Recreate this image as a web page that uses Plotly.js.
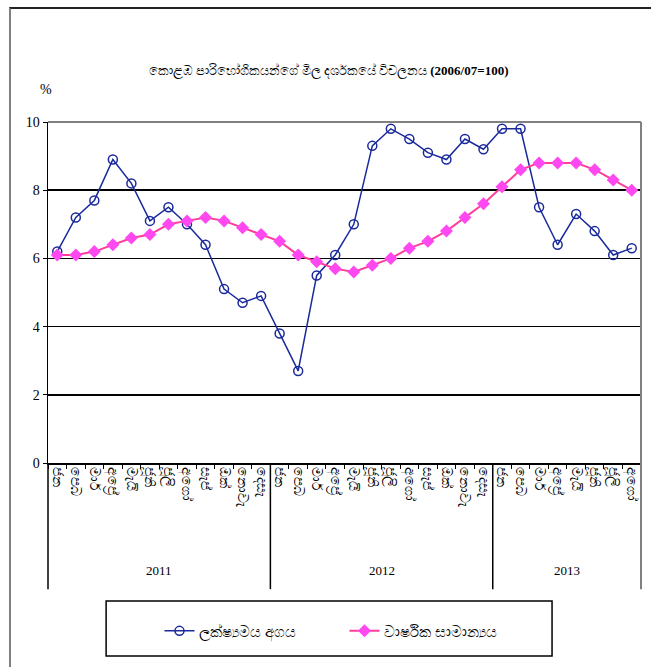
<!DOCTYPE html>
<html>
<head>
<meta charset="utf-8">
<script src="https://cdn.plot.ly/plotly-3.0.1.min.js"></script>
<style>
  html, body { margin: 0; padding: 0; background: #fff; }
  #wrap { position: relative; width: 651px; height: 667px; }
  #chart { width: 651px; height: 667px; }
  #frame { position: absolute; left: 9px; top: 7px; right: 0; bottom: 0;
           border-left: 2px solid #808080; border-top: 2px solid #222; pointer-events: none; }
</style>
</head>
<body>
<div id="wrap">
  <div id="chart"></div>
  <div id="frame"></div>
</div>
<script>
const months = ["ජන","පෙබ","මාර්","අප්‍රේ","මැයි","ජූනි","ජූලි","අගෝ","සැප්","ඔක්","නොවැ","දෙසැ"];
const years = ["2011","2012","2013"];
const monthLabels = months.concat(months, months.slice(0, 8));
const pointValues = [6.2,7.2,7.7,8.9,8.2,7.1,7.5,7.0,6.4,5.1,4.7,4.9,
                     3.8,2.7,5.5,6.1,7.0,9.3,9.8,9.5,9.1,8.9,9.5,9.2,
                     9.8,9.8,7.5,6.4,7.3,6.8,6.1,6.3];
const annualAverage = [6.1,6.1,6.2,6.4,6.6,6.7,7.0,7.1,7.2,7.1,6.9,6.7,
                       6.5,6.1,5.9,5.7,5.6,5.8,6.0,6.3,6.5,6.8,7.2,7.6,
                       8.1,8.6,8.8,8.8,8.8,8.6,8.3,8.0];
const seriesNames = ["ලක්ෂ්‍යමය අගය", "වාර්ෂික සාමාන්‍යය"];
const titleText = "කොළඹ පාරිභෝගිකයන්ගේ මිල දර්ශකයේ විචලනය <b>(2006/07=100)</b>";

const idx = monthLabels.map((_, i) => i);
const yearCounts = [12, 12, 8];
const serif = "Liberation Serif";

const traces = [
  { x: idx, y: pointValues, name: seriesNames[0], type: 'scatter', mode: 'lines+markers',
    line: { color: '#1a2a9c', width: 1.5 },
    marker: { symbol: 'circle-open', size: 9, color: '#1a2a9c', line: { width: 1.5, color: '#1a2a9c' } } },
  { x: idx, y: annualAverage, name: seriesNames[1], type: 'scatter', mode: 'lines+markers',
    line: { color: '#ff3d9a', width: 2 },
    marker: { symbol: 'diamond', size: 10, color: '#ff48f0' } }
];

const shapes = [];
const annotations = [];
let start = 0;
yearCounts.forEach((n, k) => {
  const end = start + n;
  if (k < yearCounts.length - 1) {
    shapes.push({ type: 'line', xref: 'x', yref: 'paper', x0: end - 0.5, x1: end - 0.5, y0: 0, y1: -0.37,
                  line: { color: '#000', width: 1.5 } });
  }
  annotations.push({ xref: 'x', yref: 'paper', x: (start + end - 1) / 2, y: -0.314, yanchor: 'middle', text: years[k],
                     showarrow: false, font: { family: serif, size: 13, color: '#000' } });
  start = end;
});
shapes.push({ type: 'line', xref: 'paper', yref: 'paper', x0: 0, x1: 0, y0: 0, y1: -0.37, line: { color: '#000', width: 1.5 } });
shapes.push({ type: 'line', xref: 'paper', yref: 'paper', x0: 1, x1: 1, y0: -0.37, y1: 1, line: { color: '#808080', width: 2 } });
shapes.push({ type: 'line', xref: 'paper', yref: 'paper', x0: 0, x1: 1, y0: 1, y1: 1, line: { color: '#808080', width: 2 } });
shapes.push({ type: 'rect', xref: 'paper', yref: 'paper', x0: 0.098, x1: 0.85, y0: -0.566, y1: -0.405,
              line: { color: '#000', width: 1.5 } });
annotations.push({ xref: 'paper', yref: 'paper', x: -0.017, y: 1.123, text: '%', showarrow: false,
                   font: { family: serif, size: 14, color: '#000' } });

const layout = {
  width: 651, height: 667,
  margin: { l: 48, r: 10, t: 122, b: 204 },
  font: { family: serif, size: 14, color: '#000' },
  paper_bgcolor: '#fff', plot_bgcolor: '#fff',
  title: { text: titleText, x: 0.505, xref: 'container', y: 0.895, yref: 'container', yanchor: 'middle',
           font: { family: serif, size: 13, color: '#000' } },
  showlegend: true,
  legend: { orientation: 'h', x: 0.188, xanchor: 'left', y: -0.493, yanchor: 'middle',
            font: { family: serif, size: 15, color: '#000' }, entrywidth: 140, bgcolor: 'rgba(0,0,0,0)' },
  xaxis: { range: [-0.5, idx.length - 0.5], tickmode: 'array', tickvals: idx, ticktext: monthLabels,
           tickangle: 90, ticks: '', showgrid: false, zeroline: false, showline: true, linecolor: '#000', linewidth: 1.5,
           tickfont: { family: serif, size: 14, color: '#000' },
           minor: { tickmode: 'linear', tick0: -0.5, dtick: 1, ticks: 'outside', ticklen: 4, tickcolor: '#000', tickwidth: 1, showgrid: false } },
  yaxis: { range: [0, 10], tickvals: [0, 2, 4, 6, 8, 10], ticks: 'outside', ticklen: 4, tickcolor: '#000',
           showgrid: true, gridcolor: '#000', gridwidth: 1.5, zeroline: false, showline: true, linecolor: '#000', linewidth: 1.5,
           tickfont: { family: serif, size: 14, color: '#000' } },
  shapes: shapes, annotations: annotations
};

Plotly.newPlot('chart', traces, layout, { displayModeBar: false, staticPlot: true });
</script>
</body>
</html>
